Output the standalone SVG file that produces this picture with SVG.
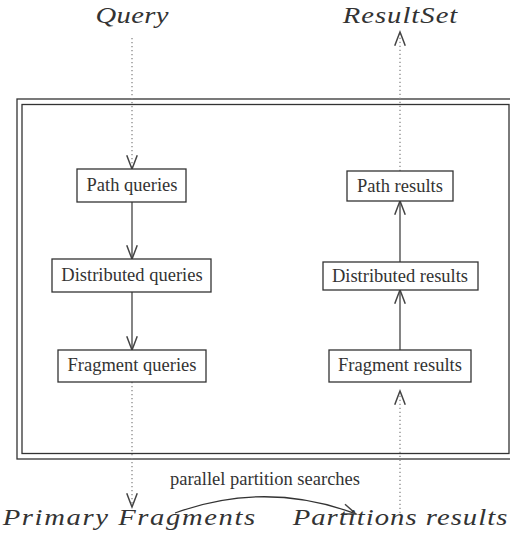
<svg xmlns="http://www.w3.org/2000/svg" width="510" height="548" viewBox="0 0 510 548">
<defs>
<marker id="v" markerUnits="userSpaceOnUse" markerWidth="20" markerHeight="20" viewBox="-14 -8 16 16" refX="0" refY="0" orient="auto" overflow="visible">
<path d="M-11,-4.2 Q-3,-1.2 0,0 Q-3,1.2 -11,4.2" fill="none" stroke="#444" stroke-width="1.2"/>
</marker>
<style>
.box{fill:#fff;stroke:#333;stroke-width:1.3}
.lbl{font-family:"Liberation Serif","Times New Roman",serif;font-size:18.5px;fill:#333;text-anchor:middle}
.math{font-family:"Liberation Serif","Times New Roman",serif;font-style:italic;font-size:23.5px;fill:#333;text-anchor:middle}
.solid{fill:none;stroke:#666;stroke-width:1.6;marker-end:url(#v)}
.dot{fill:none;stroke:#888;stroke-width:1.3;stroke-dasharray:1.3 2.7;marker-end:url(#v)}
.frame{fill:none;stroke:#333;stroke-width:1.3}
</style>
</defs>
<g id="frame">
<rect class="frame" x="17" y="99" width="500" height="360"/>
<rect class="frame" x="22" y="104.5" width="487" height="349" stroke="#555"/>
</g>
<g id="connectors">
<line class="dot" x1="132" y1="38" x2="132" y2="169"/>
<line class="solid" x1="132" y1="202" x2="132" y2="259"/>
<line class="solid" x1="132" y1="292" x2="132" y2="350"/>
<line class="dot" x1="132" y1="382" x2="132" y2="507"/>
<line class="dot" x1="400" y1="513" x2="400" y2="391"/>
<line class="solid" x1="400" y1="350" x2="400" y2="290"/>
<line class="solid" x1="400" y1="262" x2="400" y2="201"/>
<line class="dot" x1="400" y1="171" x2="400" y2="32"/>
<path d="M175,513 Q266,480 356,514" fill="none" stroke="#333" stroke-width="1.3" marker-end="url(#v)"/>
<text class="lbl" x="265" y="485">parallel partition searches</text>
</g>
<g id="query" transform="translate(132,23) scale(1.22,1)"><text class="math" x="0" y="0" textLength="60" lengthAdjust="spacing">Query</text></g>
<g id="resultset" transform="translate(400,23) scale(1.22,1)"><text class="math" x="0" y="0" textLength="94" lengthAdjust="spacing">ResultSet</text></g>
<g id="primary" transform="translate(129,525) scale(1.22,1)"><text class="math" x="0" y="0" textLength="207" lengthAdjust="spacing">Primary Fragments</text></g>
<g id="partitions" transform="translate(400,525) scale(1.22,1)"><text class="math" x="0" y="0" textLength="176" lengthAdjust="spacing">Partitions results</text></g>
<g id="path-queries"><rect class="box" x="77" y="169" width="109" height="33"/><text class="lbl" x="132" y="191">Path queries</text></g>
<g id="distributed-queries"><rect class="box" x="52" y="259" width="159" height="33"/><text class="lbl" x="132" y="281">Distributed queries</text></g>
<g id="fragment-queries"><rect class="box" x="58" y="350" width="148" height="32"/><text class="lbl" x="132" y="371">Fragment queries</text></g>
<g id="path-results"><rect class="box" x="347" y="171" width="106" height="30"/><text class="lbl" x="400" y="192">Path results</text></g>
<g id="distributed-results"><rect class="box" x="323" y="262" width="155" height="28"/><text class="lbl" x="400" y="282">Distributed results</text></g>
<g id="fragment-results"><rect class="box" x="329" y="350" width="142" height="32"/><text class="lbl" x="400" y="371">Fragment results</text></g>
</svg>
